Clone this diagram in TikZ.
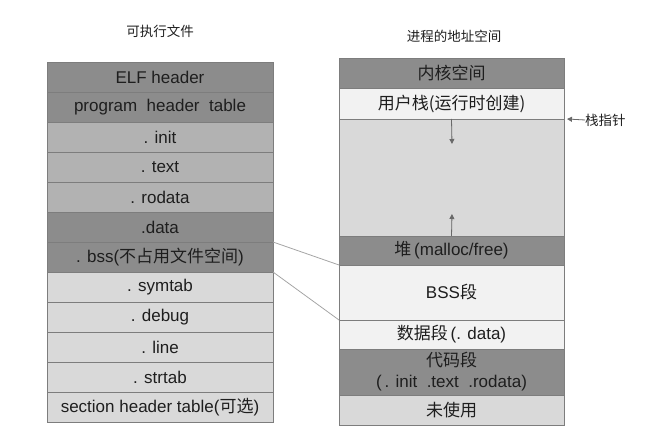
\documentclass[tikz,border=0pt]{standalone}
\usepackage{fontspec}
\setmainfont{Liberation Sans}
\newfontfamily\cjk{Noto Sans CJK SC}
\usetikzlibrary{positioning,arrows.meta}

\definecolor{segdark}{RGB}{140,140,140}
\definecolor{segmid}{RGB}{178,178,178}
\definecolor{seglight}{RGB}{217,217,217}
\definecolor{segpale}{RGB}{242,242,242}
\definecolor{segline}{RGB}{125,125,125}
\definecolor{segtext}{RGB}{30,30,30}
\definecolor{linkgray}{RGB}{165,165,165}
\definecolor{tipgray}{RGB}{105,105,105}

\tikzset{
	seg/.style={draw=segline, line width=0.8pt, outer sep=0pt, inner sep=0pt,
		text=segtext, font=\fontsize{17}{21}\selectfont},
	elfseg/.style={seg, minimum width=226pt, minimum height=30pt},
	memseg/.style={seg, minimum width=225pt},
	title/.style={font=\cjk\fontsize{13.5}{16}\selectfont, text=segtext},
	link/.style={draw=linkgray, line width=0.8pt},
	tip/.style={-{Triangle[width=5pt,length=5pt]}, draw=tipgray, fill=tipgray, line width=0.8pt},
}

\begin{document}
\begin{tikzpicture}[x=1pt, y=-1pt]
	\useasboundingbox (0,0) rectangle (645,438);
	
	% titles
	\node[title] (elfTitle) at (160,31) {可执行文件};
	\node[title] (memTitle) at (454,36) {进程的地址空间};
	
	% executable file
	\node[elfseg, fill=segdark, anchor=north west] (elf) at (47,62) {ELF header};
	\node[elfseg, fill=segdark, below=0pt of elf] (phdr) {program\ \ header\ \ table};
	\node[elfseg, fill=segmid, below=0pt of phdr] (init) {. init};
	\node[elfseg, fill=segmid, below=0pt of init] (text) {. text};
	\node[elfseg, fill=segmid, below=0pt of text] (rodata) {. rodata};
	\node[elfseg, fill=segdark, below=0pt of rodata] (data) {.data};
	\node[elfseg, fill=segdark, below=0pt of data] (bss) {. bss({\cjk 不占用文件空间})};
	\node[elfseg, fill=seglight, below=0pt of bss] (symtab) {. symtab};
	\node[elfseg, fill=seglight, below=0pt of symtab] (debug) {. debug};
	\node[elfseg, fill=seglight, below=0pt of debug] (line) {. line};
	\node[elfseg, fill=seglight, below=0pt of line] (strtab) {. strtab};
	\node[elfseg, fill=seglight, below=0pt of strtab] (shdr) {section header table({\cjk 可选})};
	
	% process address space
	\node[memseg, fill=segdark, minimum height=30pt, anchor=north west] (kernel) at (339,58) {\cjk 内核空间};
	\node[memseg, fill=segpale, minimum height=31pt, below=0pt of kernel] (stack) {\cjk 用户栈(运行时创建)};
	\node[memseg, fill=seglight, minimum height=117pt, below=0pt of stack] (free) {};
	\node[memseg, fill=segdark, minimum height=29pt, below=0pt of free] (heap) {{\cjk 堆}\,(malloc/free)};
	\node[memseg, fill=segpale, minimum height=55pt, below=0pt of heap] (bssSeg) {BSS{\cjk 段}};
	\node[memseg, fill=segpale, minimum height=29pt, below=0pt of bssSeg] (dataSeg) {{\cjk 数据段}\,(. data)};
	\node[memseg, fill=segdark, minimum height=46pt, align=center, below=0pt of dataSeg] (textSeg)
	{{\cjk 代码段}\\(\,. init\ \ .text\ \ .rodata)};
	\node[memseg, fill=seglight, minimum height=30pt, below=0pt of textSeg] (unused) {\cjk 未使用};
	
	% growth of stack and heap
	\coordinate (stackEnd) at (452,144);
	\coordinate (heapEnd) at (452,214);
	\draw[tip] (stack.south) -- (stackEnd);
	\draw[tip] (heap.north) -- (heapEnd);
	
	% stack pointer
	\node[title, inner sep=0pt, anchor=west] (sp) at (585,120) {栈指针};
	\draw[tip] (sp.west) -- ([xshift=3pt]stack.south east);
	
	% bss mapping
	\draw[link] (bss.north east) -- (heap.south west);
	\draw[link] (bss.south east) -- (bssSeg.south west);
\end{tikzpicture}
\end{document}
